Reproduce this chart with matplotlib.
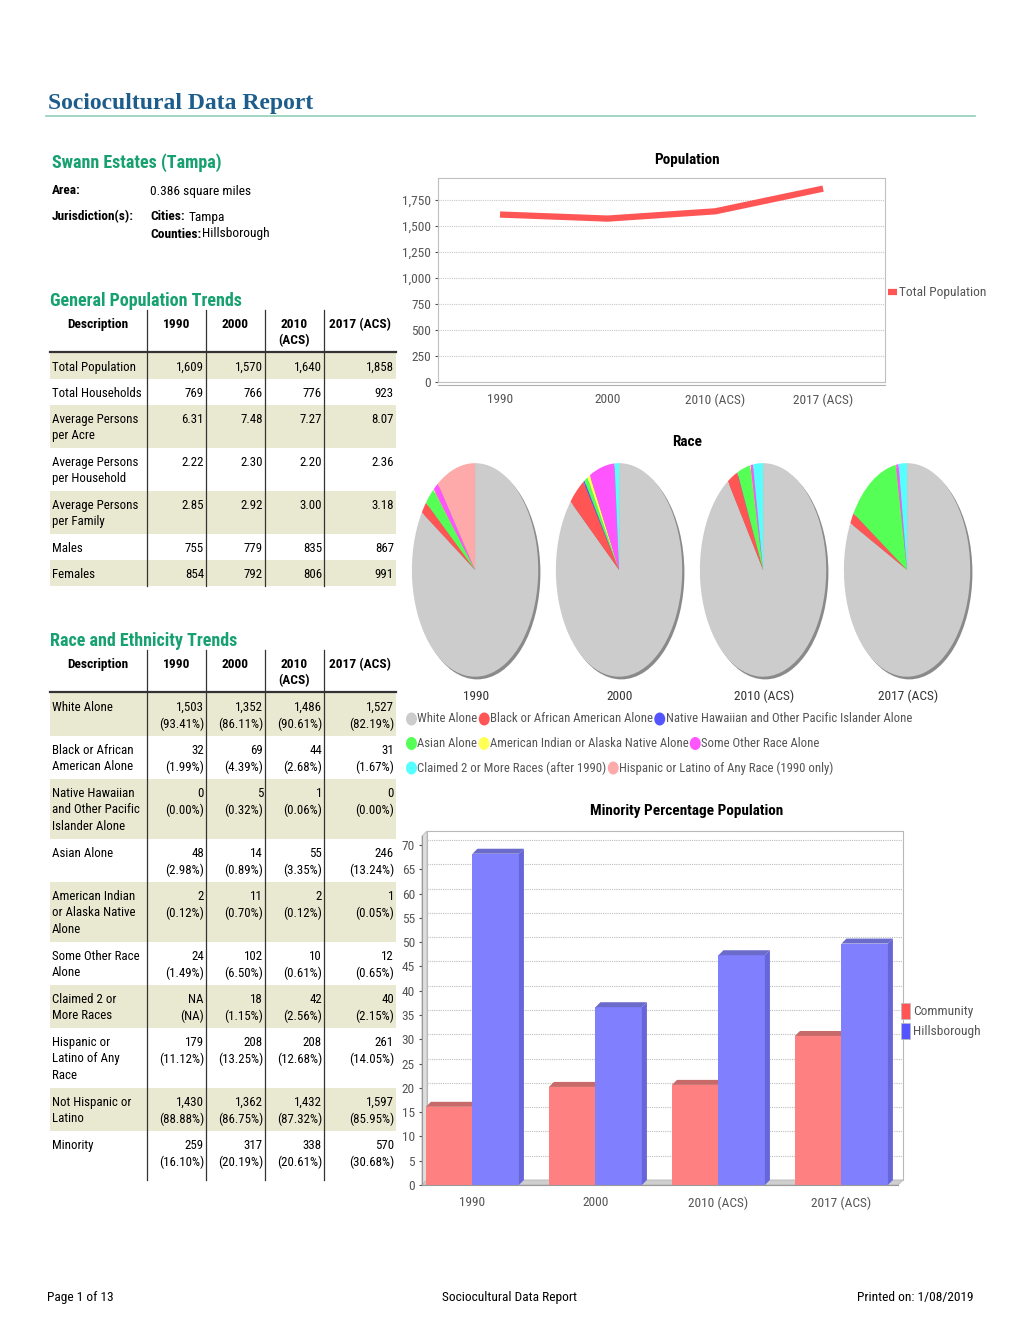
import matplotlib
matplotlib.use('Agg')
import matplotlib.pyplot as plt
from matplotlib import font_manager
from matplotlib.patches import Rectangle, Polygon, Ellipse
from matplotlib.ticker import FuncFormatter
import numpy as np

# ---- data ----
years = ["1990", "2000", "2010 (ACS)", "2017 (ACS)"]
table_years = ["1990", "2000", "2010\n(ACS)", "2017 (ACS)"]

total_pop = [1609, 1570, 1640, 1858]
total_households = [769, 766, 776, 923]
persons_per_acre = [6.31, 7.48, 7.27, 8.07]
persons_per_household = [2.22, 2.30, 2.20, 2.36]
persons_per_family = [2.85, 2.92, 3.00, 3.18]
males = [755, 779, 835, 867]
females = [854, 792, 806, 991]

white = [1503, 1352, 1486, 1527]
white_pct = [93.41, 86.11, 90.61, 82.19]
black = [32, 69, 44, 31]
black_pct = [1.99, 4.39, 2.68, 1.67]
hawaiian = [0, 5, 1, 0]
hawaiian_pct = [0.00, 0.32, 0.06, 0.00]
asian = [48, 14, 55, 246]
asian_pct = [2.98, 0.89, 3.35, 13.24]
amindian = [2, 11, 2, 1]
amindian_pct = [0.12, 0.70, 0.12, 0.05]
other_race = [24, 102, 10, 12]
other_race_pct = [1.49, 6.50, 0.61, 0.65]
two_plus = [None, 18, 42, 40]
two_plus_pct = [None, 1.15, 2.56, 2.15]
hispanic = [179, 208, 208, 261]
hispanic_pct = [11.12, 13.25, 12.68, 14.05]
not_hispanic = [1430, 1362, 1432, 1597]
not_hispanic_pct = [88.88, 86.75, 87.32, 85.95]
minority = [259, 317, 338, 570]
minority_pct = [16.10, 20.19, 20.61, 30.68]
hillsborough_minority_pct = [68.2, 36.6, 47.3, 49.7]

race_labels = ["White Alone", "Black or African American Alone",
               "Native Hawaiian and Other Pacific Islander Alone", "Asian Alone",
               "American Indian or Alaska Native Alone", "Some Other Race Alone",
               "Claimed 2 or More Races (after 1990)",
               "Hispanic or Latino of Any Race (1990 only)"]
race_colors = ["#cccccc", "#ff5555", "#5555ff", "#55ff55", "#ffff55",
               "#ff55ff", "#55ffff", "#ffaaaa"]

# ---- fonts ----
avail = {f.name for f in font_manager.fontManager.ttflist}
NARROW = next((n for n in ["Liberation Sans Narrow", "Roboto Condensed"]
               if n in avail), None)
if NARROW:
    SANS = [NARROW, "DejaVu Sans"]
    k = 1.0
else:
    SANS = ["Liberation Sans", "DejaVu Sans"]
    k = 0.85
plt.rcParams["font.family"] = SANS

W, H = 1020, 1320
fig = plt.figure(figsize=(W / 100, H / 100), dpi=100)
bg = fig.add_axes([0, 0, 1, 1])
bg.set_xlim(0, W)
bg.set_ylim(H, 0)
bg.axis("off")


def px_axes(l, t, r, b):
    return fig.add_axes([l / W, 1 - b / H, (r - l) / W, (b - t) / H])


BLUE = "#1d5d8c"
GREEN = "#17a070"
SHADE = "#e9e9d1"
GREY_TXT = "#555555"
BODY = 9.6 * k
CELL = 9.3 * k
LS = 1.33

# ---- page header ----
bg.text(48, 103, "Sociocultural Data Report", fontsize=17, fontweight="bold",
        color=BLUE, family="Liberation Serif", va="center")
bg.plot([46, 975], [116, 116], color="#8fd0b8", lw=1.2)

bg.text(52, 163, "Swann Estates (Tampa)", fontsize=13 * k, fontweight="bold",
        color=GREEN, va="center")
bg.text(52, 191, "Area:", fontsize=BODY, fontweight="bold", va="center")
bg.text(150, 191, "0.386 square miles", fontsize=BODY, va="center")
bg.text(52, 217, "Jurisdiction(s):", fontsize=BODY, fontweight="bold", va="center")
bg.text(150, 217, "Cities:", fontsize=BODY, fontweight="bold", va="center")
bg.text(189, 217, "Tampa", fontsize=BODY, va="center")
bg.text(150, 234, "Counties:", fontsize=BODY, fontweight="bold", va="center")
bg.text(202, 234, "Hillsborough", fontsize=BODY, va="center")

col_edges = [50, 147, 206, 265, 324, 396]


def fmt_int(v):
    return f"{v:,}"


def fmt_dec(v):
    return f"{v:.2f}"


def draw_table(title, title_y, head_y, line_y, v_top, v_bottom, first_row, rows):
    bg.text(50, title_y, title, fontsize=13 * k, fontweight="bold",
            color=GREEN, va="center")
    bg.text(98, head_y, "Description", fontsize=BODY, fontweight="bold",
            ha="center", va="top")
    for j, yl in enumerate(table_years):
        cx = (col_edges[j + 1] + col_edges[j + 2]) / 2
        bg.text(cx, head_y, yl, fontsize=BODY, fontweight="bold", ha="center",
                va="top", linespacing=1.3)
    for x in col_edges[1:-1]:
        bg.plot([x, x], [v_top, v_bottom], color="#333333", lw=0.9)
    bg.plot([col_edges[0], col_edges[-1]], [line_y, line_y], color="#333333", lw=1.6)
    top = first_row
    for i, (label, cells) in enumerate(rows):
        n_lines = max([label.count("\n")] + [c.count("\n") for c in cells]) + 1
        h = 26 + 17 * (n_lines - 1)
        if i % 2 == 0:
            bg.add_patch(Rectangle((col_edges[0], top),
                                   col_edges[-1] - col_edges[0], h,
                                   color=SHADE, lw=0, zorder=0))
        bg.text(52, top + 8, label, fontsize=CELL, va="top", linespacing=LS)
        for j, c in enumerate(cells):
            bg.text(col_edges[j + 2] - 2, top + 8, c, fontsize=CELL, va="top",
                    ha="right", linespacing=LS)
        top += h


rows1 = [
    ("Total Population", [fmt_int(v) for v in total_pop]),
    ("Total Households", [fmt_int(v) for v in total_households]),
    ("Average Persons\nper Acre", [fmt_dec(v) for v in persons_per_acre]),
    ("Average Persons\nper Household", [fmt_dec(v) for v in persons_per_household]),
    ("Average Persons\nper Family", [fmt_dec(v) for v in persons_per_family]),
    ("Males", [fmt_int(v) for v in males]),
    ("Females", [fmt_int(v) for v in females]),
]
draw_table("General Population Trends", 301, 318, 352, 310, 586, 353, rows1)


def race_cells(counts, pcts):
    out = []
    for c, p in zip(counts, pcts):
        if c is None:
            out.append("NA\n(NA)")
        else:
            out.append(f"{c:,}\n({p:.2f}%)")
    return out


rows2 = [
    ("White Alone", race_cells(white, white_pct)),
    ("Black or African\nAmerican Alone", race_cells(black, black_pct)),
    ("Native Hawaiian\nand Other Pacific\nIslander Alone", race_cells(hawaiian, hawaiian_pct)),
    ("Asian Alone", race_cells(asian, asian_pct)),
    ("American Indian\nor Alaska Native\nAlone", race_cells(amindian, amindian_pct)),
    ("Some Other Race\nAlone", race_cells(other_race, other_race_pct)),
    ("Claimed 2 or\nMore Races", race_cells(two_plus, two_plus_pct)),
    ("Hispanic or\nLatino of Any\nRace", race_cells(hispanic, hispanic_pct)),
    ("Not Hispanic or\nLatino", race_cells(not_hispanic, not_hispanic_pct)),
    ("Minority", race_cells(minority, minority_pct)),
]
draw_table("Race and Ethnicity Trends", 641, 658, 692, 650, 1180, 693, rows2)

# ---- Population line chart ----
bg.text(687, 160, "Population", fontsize=11 * k, fontweight="bold",
        ha="center", va="center")
ax1 = px_axes(438, 178, 885, 382)
xs = np.arange(len(years))
line, = ax1.plot(xs, total_pop, color="#ff5555", lw=4.5, solid_capstyle="butt",
                 label="Total Population")
ax1.set_xlim(-0.576, 3.575)
ax1.set_ylim(0, 1960)
ax1.set_yticks(range(0, 1751, 250))
ax1.yaxis.set_major_formatter(FuncFormatter(lambda v, p: f"{int(v):,}"))
ax1.set_xticks(xs)
ax1.set_xticklabels(years)
ax1.yaxis.grid(True, color="#c8c8c8", ls=(0, (1, 1)), lw=0.8)
ax1.set_axisbelow(True)
for s in ax1.spines.values():
    s.set_color("#c0c0c0")
ax1.tick_params(colors=GREY_TXT, labelsize=BODY, length=2, pad=3)
ax1.tick_params(axis="x", length=0, pad=8)
bg.plot([438, 885], [385, 385], color="#b0b0b0", lw=0.8)
fig.legend(handles=[line], loc="center left", bbox_to_anchor=(876 / W, 1 - 293 / H),
           frameon=False, handlelength=0.7, handletextpad=0.1,
           prop={"size": BODY}, labelcolor=GREY_TXT)

# ---- Race pies ----
bg.text(687, 442, "Race", fontsize=11 * k, fontweight="bold",
        ha="center", va="center")
pie_cx = [476, 620, 764, 908]
for i, cx in enumerate(pie_cx):
    axp = px_axes(cx - 66, 461, cx + 66, 681)
    vals = [white[i], black[i], hawaiian[i], asian[i], amindian[i],
            other_race[i], two_plus[i] or 0, hispanic[i] if i == 0 else 0]
    axp.pie([1], colors=["#8a8a8a"], radius=1.0, center=(0.035, -0.025),
            wedgeprops=dict(linewidth=0))
    axp.pie(vals, colors=race_colors, startangle=90, counterclock=False,
            radius=1.0, wedgeprops=dict(linewidth=0))
    axp.set_aspect("auto")
    axp.set_xlim(-1.03, 1.06)
    axp.set_ylim(-1.04, 1.02)
    axp.axis("off")
    bg.text(cx, 696, years[i], fontsize=BODY, color="#333333", ha="center",
            va="center")

# flow legend for race colours
renderer = fig.canvas.get_renderer()
legend_rows = [[0, 1, 2], [3, 4, 5], [6, 7]]
for r, idxs in enumerate(legend_rows):
    x = 406
    y = 719 + r * 24.5
    for idx in idxs:
        bg.add_patch(Ellipse((x + 5.5, y), 11, 13, color=race_colors[idx], lw=0))
        t = bg.text(x + 11.5, y, race_labels[idx], fontsize=9.2 * k,
                    color=GREY_TXT, va="center")
        bb = t.get_window_extent(renderer=renderer)
        x = x + 11.5 + bb.width + 1

# ---- Minority bar chart ----
bg.text(687, 811, "Minority Percentage Population", fontsize=11 * k,
        fontweight="bold", ha="center", va="center")
ax3 = px_axes(422, 836, 898, 1185)
x0, x1 = -0.41, 3.46
ymax = 71.85
ax3.set_xlim(x0, x1)
ax3.set_ylim(0, ymax)
dx, dy = 5 / 123, 5 / 4.857
bw = 0.378
# back wall, left wall, floor
ax3.add_patch(Rectangle((x0 + dx, dy), x1 - x0, ymax, fc="white", ec="#b8b8b8",
                        lw=0.8, clip_on=False, zorder=0))
ax3.add_patch(Polygon([(x0, 0), (x0 + dx, dy), (x0 + dx, ymax + dy), (x0, ymax)],
                      fc="#dedede", ec="#b8b8b8", lw=0.6, clip_on=False, zorder=0))
ax3.add_patch(Polygon([(x0, 0), (x1, 0), (x1 + dx, dy), (x0 + dx, dy)],
                      fc="#cfcfcf", ec="#b8b8b8", lw=0.6, clip_on=False, zorder=0))
yt = np.arange(0, 71, 5)
for v in yt[1:]:
    ax3.plot([x0 + dx, x1 + dx], [v + dy, v + dy], color="#bdbdbd",
             ls=(0, (1, 1)), lw=0.8, clip_on=False, zorder=0.5)
xb = np.arange(len(years))
series = [(minority_pct, -bw / 2, "#ff8080", "#c86a6a", "#d06565", "Community", "#ff5555"),
          (hillsborough_minority_pct, bw / 2, "#8080ff", "#6b6bcc", "#6666d8", "Hillsborough", "#5555ff")]
handles = []
for vals, off, front, top, side, name, lc in series:
    bars = ax3.bar(xb + off, vals, bw, color=front, lw=0, zorder=2)
    for b in bars:
        bx0, bx1, h = b.get_x(), b.get_x() + b.get_width(), b.get_height()
        ax3.add_patch(Polygon([(bx0, h), (bx1, h), (bx1 + dx, h + dy), (bx0 + dx, h + dy)],
                              fc=top, lw=0, zorder=2, clip_on=False))
        ax3.add_patch(Polygon([(bx1, 0), (bx1, h), (bx1 + dx, h + dy), (bx1 + dx, dy)],
                              fc=side, lw=0, zorder=2, clip_on=False))
    handles.append(Rectangle((0, 0), 1, 1, fc=lc, ec="#bbbbbb", lw=0.5, label=name))
ax3.set_yticks(yt)
ax3.set_xticks(xb)
ax3.set_xticklabels(years)
for s in ["top", "right"]:
    ax3.spines[s].set_visible(False)
ax3.spines["left"].set_color("#999999")
ax3.spines["bottom"].set_color("#999999")
ax3.tick_params(colors=GREY_TXT, labelsize=BODY, length=2, pad=3)
ax3.tick_params(axis="x", length=0, pad=8)
fig.legend(handles=handles, loc="center left",
           bbox_to_anchor=(889 / W, 1 - 1021 / H), frameon=False,
           handlelength=0.7, handleheight=1.4, handletextpad=0.2, labelspacing=0.35,
           prop={"size": BODY}, labelcolor=GREY_TXT)

# ---- footer ----
bg.text(47, 1298, "Page 1 of 13", fontsize=BODY, va="center")
bg.text(510, 1298, "Sociocultural Data Report", fontsize=BODY, va="center",
        ha="center")
bg.text(974, 1298, "Printed on: 1/08/2019", fontsize=BODY, va="center", ha="right")

fig.savefig("out.png", dpi=100)
